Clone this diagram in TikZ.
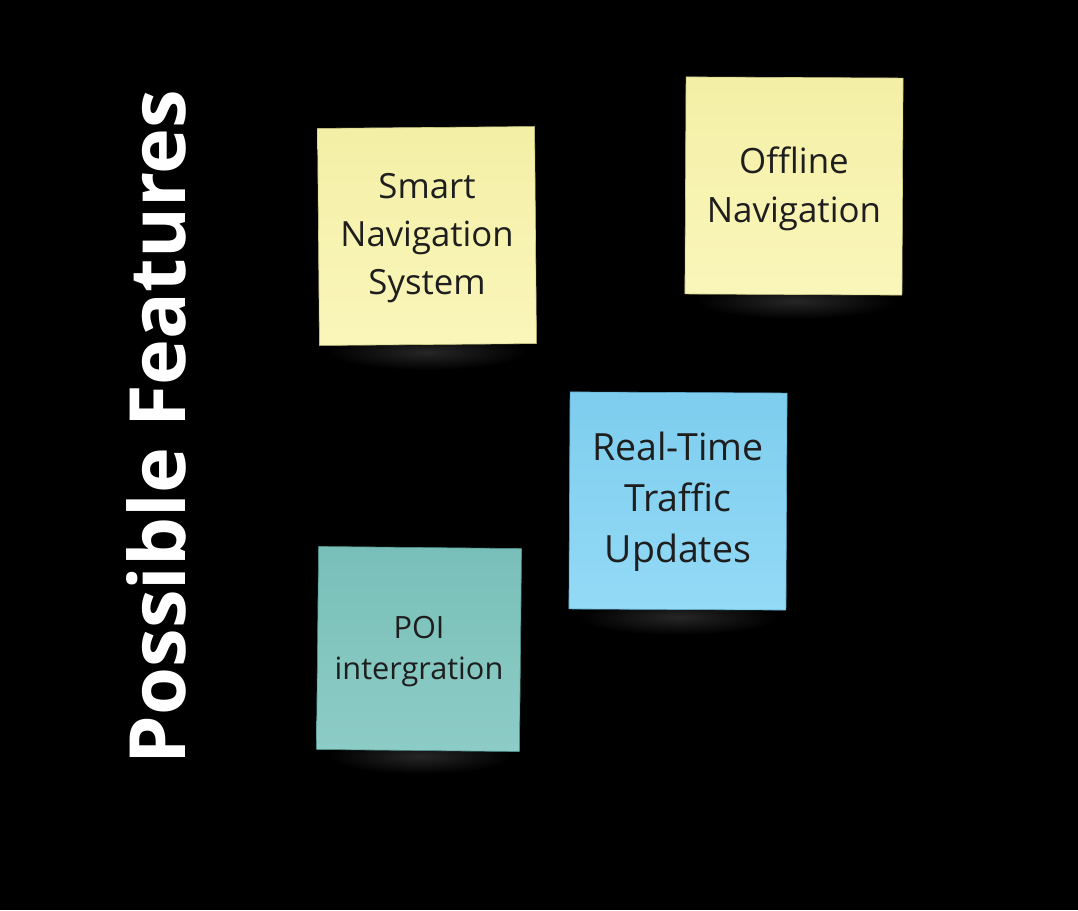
\documentclass[tikz,border=0pt]{standalone}
\usepackage{fontspec}
\setmainfont{Open Sans}
\usepackage{xcolor}
\usetikzlibrary{positioning}
\definecolor{boardbg}{HTML}{000000}
\definecolor{inktext}{HTML}{1E1E1E}
\definecolor{noteyellowtop}{HTML}{F4EFA6}
\definecolor{noteyellowbot}{HTML}{FAF6BA}
\definecolor{noteyellowedge}{HTML}{CFCA86}
\definecolor{notebluetop}{HTML}{7ECDEE}
\definecolor{notebluebot}{HTML}{93DAF6}
\definecolor{noteblueedge}{HTML}{5FA9C8}
\definecolor{noteteal}{HTML}{79BFB9}
\definecolor{notetealbot}{HTML}{8DCCC6}
\definecolor{notetealedge}{HTML}{4E8E89}
\definecolor{shadowgrey}{HTML}{262626}

\begin{document}
\begin{tikzpicture}[
  x=1pt, y=-1pt,
  stickynote/.style={
    rectangle, minimum width=217pt, minimum height=217pt,
    inner sep=6pt, align=center, text=inktext, line width=0.6pt,
  },
  yellownote/.style={stickynote, top color=noteyellowtop, bottom color=noteyellowbot, draw=noteyellowedge},
  bluenote/.style={stickynote, top color=notebluetop, bottom color=notebluebot, draw=noteblueedge},
  tealnote/.style={stickynote, top color=noteteal, bottom color=notetealbot, draw=notetealedge},
  notetext/.style={font=\fontsize{34.7}{48}\selectfont},
]

% board
\fill[boardbg] (0,0) rectangle (1078,910);

% soft shadows under the notes
\shade[inner color=shadowgrey, outer color=boardbg] (427,352) ellipse (100 and 18);
\shade[inner color=shadowgrey, outer color=boardbg] (796,301) ellipse (100 and 18);
\shade[inner color=shadowgrey, outer color=boardbg] (678,617) ellipse (100 and 18);
\shade[inner color=shadowgrey, outer color=boardbg] (420,756) ellipse (92 and 18);

% title
\node[text=white, rotate=90, font=\fontsize{77.6}{90}\selectfont\bfseries] (title) at (156,427) {Possible Features};

% notes
\node[yellownote, rotate=0.5] (smartnav) at (427,236) {};
\node[notetext, text=inktext, align=center] (smartnavtext) at ([yshift=-2pt]smartnav) {Smart\\Navigation\\System};

\node[yellownote, rotate=-0.3] (offline) at (794,186) {};
\node[notetext, text=inktext, align=center, font=\fontsize{34.9}{49}\selectfont] (offlinetext) at ([yshift=-3pt]offline) {Offline\\Navigation};

\node[bluenote, rotate=-0.3] (traffic) at (678,501) {};
\node[text=inktext, align=center, font=\fontsize{37.5}{51}\selectfont] (traffictext) at ([yshift=-1pt]traffic) {Real-Time\\Traffic\\Updates};

\node[tealnote, rotate=-0.6, minimum width=203pt, minimum height=203pt] (poi) at (419,649) {};
\node[text=inktext, align=center, font=\fontsize{30.7}{41}\selectfont] (poitext) at ([yshift=-3pt]poi) {POI\\intergration};

\end{tikzpicture}
\end{document}
